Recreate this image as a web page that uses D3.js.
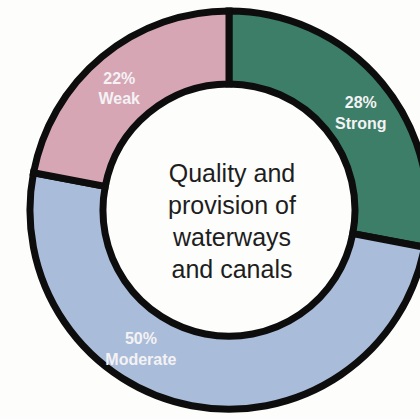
<!DOCTYPE html>
<html>
<head>
<meta charset="utf-8">
<script src="https://cdn.jsdelivr.net/npm/d3@7"></script>
<style>
  html, body { margin: 0; padding: 0; background: #fdfdfc; overflow: hidden; }
  svg { display: block; }
</style>
</head>
<body>
<svg id="chart" width="420" height="419"></svg>
<script>
// Ratings for the quality and provision of waterways and canals
const categories = ["Strong", "Moderate", "Weak"];
const shares = [28, 50, 22];
const colours = ["#3c7e67", "#a9bcd9", "#d6a6b5"];
// Angle (degrees, clockwise from twelve o'clock) where each slice label sits
const labelAngles = [53.5, 212.5, 318];
const centreLines = ["Quality and", "provision of", "waterways", "and canals"];

const svg = d3.select("#chart");
const cx = 229, cy = 210;
const outerR = 199, innerR = 126;

const g = svg.append("g").attr("transform", `translate(${cx},${cy})`);

const pie = d3.pie().value(d => d.value).sort(null);
const arcs = pie(categories.map((c, i) => ({ name: c, value: shares[i], colour: colours[i], la: labelAngles[i] })));

const arc = d3.arc().innerRadius(innerR).outerRadius(outerR);

// Donut slices
g.selectAll("path.slice")
  .data(arcs)
  .join("path")
  .attr("class", "slice")
  .attr("d", arc)
  .attr("fill", d => d.data.colour)
  .attr("stroke", "#0d0d0d")
  .attr("stroke-width", 7)
  .attr("stroke-linejoin", "miter");

// Slice labels
const labelR = 164;
const labels = g.selectAll("text.lbl")
  .data(arcs)
  .join("text")
  .attr("class", "lbl")
  .attr("text-anchor", "middle")
  .attr("font-family", "Liberation Sans, Arial, sans-serif")
  .attr("font-weight", "bold")
  .attr("font-size", 16)
  .attr("fill", "#f4f2f4")
  .attr("transform", d => {
    const a = d.data.la * Math.PI / 180;
    return `translate(${labelR * Math.sin(a)},${-labelR * Math.cos(a)}) scale(1,1.08)`;
  });
labels.append("tspan").attr("x", 0).attr("y", -4).text(d => d.data.value + "%");
labels.append("tspan").attr("x", 0).attr("y", 15).text(d => d.data.name);

// Centre title
const title = g.append("text")
  .attr("text-anchor", "middle")
  .attr("font-family", "Liberation Sans, Arial, sans-serif")
  .attr("font-size", 25)
  .attr("fill", "#1e1e1e");
centreLines.forEach((t, i) => {
  title.append("tspan").attr("x", 3).attr("y", -28 + i * 32).text(t);
});
</script>
</body>
</html>
